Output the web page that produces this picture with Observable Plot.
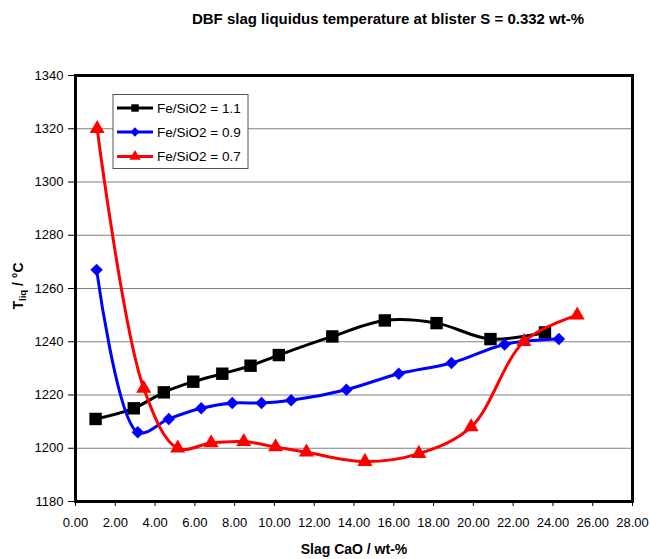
<!DOCTYPE html>
<html>
<head>
<meta charset="utf-8">
<script src="https://cdn.jsdelivr.net/npm/d3@7"></script>
<script src="https://cdn.jsdelivr.net/npm/@observablehq/plot@0.6"></script>
<style>
  html, body { margin: 0; padding: 0; background: white; }
  #wrap { position: relative; width: 650px; height: 559px; font-family: "Liberation Sans", Arial, sans-serif; }
  #title { position: absolute; left: 388px; top: 11px; transform: translateX(-50%); white-space: nowrap;
           font-weight: bold; font-size: 15px; line-height: 15px; color: black; }
</style>
</head>
<body>
<div id="wrap">
  <div id="chart"></div>
  <div id="title">DBF slag liquidus temperature at blister S = 0.332 wt-%</div>
</div>
<script>
// Tick values
const xTicks = [0, 2, 4, 6, 8, 10, 12, 14, 16, 18, 20, 22, 24, 26, 28];
const yTicks = [1180, 1200, 1220, 1240, 1260, 1280, 1300, 1320, 1340];

// Series names
const seriesNames = ["Fe/SiO2 = 1.1", "Fe/SiO2 = 0.9", "Fe/SiO2 = 0.7"];

// Fe/SiO2 = 1.1
const cao11 = [1.01, 2.93, 4.44, 5.92, 7.38, 8.80, 10.22, 12.91, 15.55, 18.15, 20.86, 23.60];
const tliq11 = [1211, 1215, 1221, 1225, 1228, 1231, 1235, 1242, 1248, 1247, 1241, 1243.5];
// Fe/SiO2 = 0.9
const cao09 = [1.06, 3.13, 4.69, 6.32, 7.88, 9.35, 10.84, 13.62, 16.25, 18.90, 21.57, 24.30];
const tliq09 = [1267, 1206, 1211, 1215, 1217, 1217, 1218, 1222, 1228, 1232, 1239, 1241];
// Fe/SiO2 = 0.7
const cao07 = [1.09, 3.43, 5.14, 6.82, 8.46, 10.06, 11.61, 14.55, 17.26, 19.89, 22.54, 25.22];
const tliq07 = [1320, 1222.5, 1200, 1202, 1202.5, 1200.5, 1198.5, 1195, 1198, 1208, 1240, 1250];

const styles = [
  {color: "#000000", symbol: "square", r: 7},
  {color: "#0000ff", symbol: "diamond2", r: 5.6},
  {color: "#ff0000", symbol: "triangle", r: 5.6}
];

const toRows = (xs, ys) => xs.map((x, i) => ({x, y: ys[i]}));
const seriesData = [toRows(cao11, tliq11), toRows(cao09, tliq09), toRows(cao07, tliq07)];

const marks = [
  Plot.ruleY(yTicks.slice(1, -1), {stroke: "#808080", strokeWidth: 1})
];
seriesData.forEach((rows, i) => {
  const s = styles[i];
  marks.push(Plot.line(rows, {x: "x", y: "y", stroke: s.color, strokeWidth: 3, curve: "catmull-rom"}));
  marks.push(Plot.dot(rows, {x: "x", y: "y", fill: s.color, stroke: "none", symbol: s.symbol, r: s.r}));
});
marks.push(Plot.frame({stroke: "black", strokeWidth: 3}));

const chart = Plot.plot({
  width: 650,
  height: 559,
  marginLeft: 75,
  marginRight: 18,
  marginTop: 75,
  marginBottom: 58,
  style: {fontFamily: "'Liberation Sans', Arial, sans-serif", fontSize: "13px", color: "black", background: "white", overflow: "visible"},
  x: {domain: [0, 28], ticks: xTicks, tickFormat: d => d.toFixed(2), tickSize: 5, tickPadding: 11, label: null},
  y: {domain: [1180, 1340], ticks: yTicks, tickFormat: d => String(d), tickSize: 7, tickPadding: 5, label: null},
  marks
});
document.getElementById("chart").appendChild(chart);

const svg = d3.select(chart);

// Axis titles
svg.append("text")
  .attr("x", 354).attr("y", 554)
  .attr("text-anchor", "middle")
  .attr("font-weight", "bold").attr("font-size", 14)
  .attr("fill", "black")
  .text("Slag CaO / wt-%");

const yl = svg.append("text")
  .attr("transform", "translate(23,286) rotate(-90)")
  .attr("text-anchor", "middle")
  .attr("font-weight", "bold").attr("font-size", 14)
  .attr("fill", "black");
yl.append("tspan").text("T");
yl.append("tspan").attr("font-size", 9.5).attr("dy", 3).text("liq");
yl.append("tspan").attr("dy", -3).text(" / °C");

// Legend
const lg = svg.append("g");
lg.append("rect").attr("x", 113).attr("y", 94.5).attr("width", 135).attr("height", 74)
  .attr("fill", "white").attr("stroke", "#555").attr("stroke-width", 1);
const rowsY = [108, 132, 156.5];
styles.forEach((s, i) => {
  const y = rowsY[i];
  lg.append("line").attr("x1", 117).attr("x2", 153).attr("y1", y).attr("y2", y)
    .attr("stroke", s.color).attr("stroke-width", 3);
  lg.append("path").attr("transform", `translate(135,${y})`)
    .attr("d", d3.symbol(s.symbol === "square" ? d3.symbolSquare : s.symbol === "diamond2" ? d3.symbolDiamond2 : d3.symbolTriangle, Math.PI * 4.2 * 4.2)())
    .attr("fill", s.color);
  lg.append("text").attr("x", 157).attr("y", y).attr("dy", "0.35em")
    .attr("text-anchor", "start")
    .attr("font-size", 13.5).attr("fill", "black").text(seriesNames[i]);
});
</script>
</body>
</html>
